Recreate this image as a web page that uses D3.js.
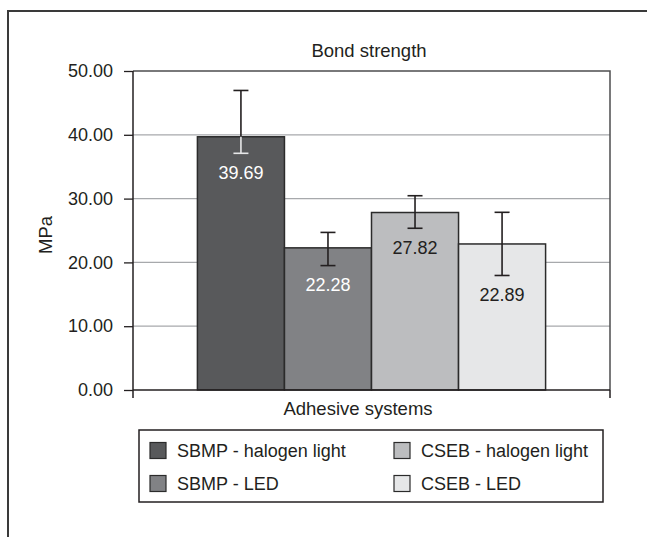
<!DOCTYPE html>
<html>
<head>
<meta charset="utf-8">
<script src="https://cdn.jsdelivr.net/npm/d3@7"></script>
<style>
  body { margin: 0; background: #fff; }
  text { font-family: "Liberation Sans", Arial, sans-serif; fill: #231f20; }
</style>
</head>
<body>
<div id="grafico"></div>
<script>
const W = 647, H = 537;
const margin = { top: 71, left: 133, bottom: 147, right: 37 };
const width  = W - margin.left - margin.right;
const height = H - margin.top - margin.bottom;

const category   = ["Adhesive systems"];
const series     = ["SBMP - halogen light", "SBMP - LED", "CSEB - halogen light", "CSEB - LED"];
const values     = [39.69, 22.28, 27.82, 22.89];
const errUpper   = [46.95, 24.7, 30.45, 27.85];
const errLower   = [37.1, 19.5, 25.35, 17.95];
const yTicks     = [0, 10, 20, 30, 40, 50];
const colors     = ["#58595b", "#818285", "#bcbdbf", "#e6e7e8"];
const labelColor = ["#ffffff", "#ffffff", "#231f20", "#231f20"];

const root = d3.select("#grafico")
  .append("svg")
  .attr("width", W)
  .attr("height", H);

// outer frame (top + left only)
root.append("path")
  .attr("d", `M8,${H} V11 H${W}`)
  .attr("fill", "none")
  .attr("stroke", "#3a3a3a")
  .attr("stroke-width", 2);

const svg = root.append("g")
  .attr("transform", `translate(${margin.left}, ${margin.top})`);

const xScale = d3.scaleBand()
  .domain(category)
  .range([0, width])
  .paddingInner(0)
  .paddingOuter(0.185);

const xInner = d3.scaleBand()
  .domain(series)
  .range([0, xScale.bandwidth()]);

const yScale = d3.scaleLinear()
  .domain([0, 50])
  .range([height, 0]);

// gridlines
svg.append("g")
  .selectAll("line")
  .data(yTicks.filter(d => d > 0 && d < 50))
  .join("line")
  .attr("x1", 0)
  .attr("x2", width)
  .attr("y1", d => yScale(d))
  .attr("y2", d => yScale(d))
  .attr("stroke", "#a7a9ac")
  .attr("stroke-width", 1.2);

// plot border top/right
svg.append("path")
  .attr("d", `M0,${yScale(50)} H${width} V${height}`)
  .attr("fill", "none")
  .attr("stroke", "#4d4d4f")
  .attr("stroke-width", 1.5);

// bars
const bars = svg.append("g")
  .attr("transform", `translate(${xScale(category[0])}, 0)`);

bars.selectAll("rect")
  .data(series)
  .join("rect")
  .attr("x", d => xInner(d))
  .attr("y", (d, i) => yScale(values[i]))
  .attr("width", xInner.bandwidth())
  .attr("height", (d, i) => height - yScale(values[i]))
  .attr("fill", (d, i) => colors[i])
  .attr("stroke", "#2b2b2b")
  .attr("stroke-width", 1.5);

// error bars
const capW = 7.5;
series.forEach((s, i) => {
  const cx = xInner(s) + xInner.bandwidth() / 2;
  const g = bars.append("g");
  const inside = i === 0 ? "#e6e7e8" : "#231f20";
  g.append("line")
    .attr("x1", cx).attr("x2", cx)
    .attr("y1", yScale(errUpper[i])).attr("y2", yScale(values[i]))
    .attr("stroke", "#231f20").attr("stroke-width", 1.6);
  g.append("line")
    .attr("x1", cx - capW).attr("x2", cx + capW)
    .attr("y1", yScale(errUpper[i])).attr("y2", yScale(errUpper[i]))
    .attr("stroke", "#231f20").attr("stroke-width", 1.6);
  g.append("line")
    .attr("x1", cx).attr("x2", cx)
    .attr("y1", yScale(values[i])).attr("y2", yScale(errLower[i]))
    .attr("stroke", inside).attr("stroke-width", 1.6);
  g.append("line")
    .attr("x1", cx - capW).attr("x2", cx + capW)
    .attr("y1", yScale(errLower[i])).attr("y2", yScale(errLower[i]))
    .attr("stroke", inside).attr("stroke-width", 1.6);
  g.append("text")
    .attr("x", cx)
    .attr("y", yScale(errLower[i]) + 19)
    .attr("dy", "0.35em")
    .attr("text-anchor", "middle")
    .style("font-size", "18px")
    .style("fill", labelColor[i])
    .text(values[i].toFixed(2));
});

// y axis
const yAxis = svg.append("g")
  .call(d3.axisLeft(yScale).tickValues(yTicks).tickFormat(d3.format(".2f")).tickSize(9).tickPadding(11));
yAxis.select(".domain").attr("stroke", "#231f20").attr("stroke-width", 1.5)
  .attr("d", `M0,0 V${height + 8}`);
yAxis.selectAll(".tick line").attr("stroke", "#231f20").attr("stroke-width", 1.3);
yAxis.selectAll(".tick text").style("font-size", "18px").style("font-family", "Liberation Sans, Arial, sans-serif").attr("fill", "#231f20");

// x axis
const xAxis = svg.append("g")
  .attr("transform", `translate(0, ${height})`);
xAxis.append("line")
  .attr("x1", 0).attr("x2", width)
  .attr("stroke", "#231f20").attr("stroke-width", 1.5);
xAxis.append("line")
  .attr("x1", width).attr("x2", width)
  .attr("y1", 0).attr("y2", 8)
  .attr("stroke", "#231f20").attr("stroke-width", 1.5);

// titles
root.append("text")
  .attr("x", 369).attr("y", 57)
  .attr("text-anchor", "middle")
  .style("font-size", "18.5px")
  .text("Bond strength");

root.append("text")
  .attr("x", 358).attr("y", 415)
  .attr("text-anchor", "middle")
  .style("font-size", "18.5px")
  .text(category[0]);

root.append("text")
  .attr("transform", "translate(52, 235) rotate(-90)")
  .attr("text-anchor", "middle")
  .style("font-size", "18.5px")
  .text("MPa");

// legend
const legend = root.append("g");
legend.append("rect")
  .attr("x", 139).attr("y", 430)
  .attr("width", 464).attr("height", 72)
  .attr("fill", "none")
  .attr("stroke", "#231f20")
  .attr("stroke-width", 1.5);

const colX = [150, 394];
const rowY = [450.5, 483.5];
series.forEach((s, i) => {
  const col = Math.floor(i / 2), row = i % 2;
  const item = legend.append("g")
    .attr("transform", `translate(${colX[col]}, ${rowY[row]})`);
  item.append("rect")
    .attr("x", 0).attr("y", -8)
    .attr("width", 16).attr("height", 16)
    .attr("fill", colors[i])
    .attr("stroke", "#2b2b2b")
    .attr("stroke-width", 1.2);
  item.append("text")
    .attr("x", 27).attr("y", 0)
    .attr("dy", "0.35em")
    .style("font-size", "18px")
    .text(s);
});
</script>
</body>
</html>
